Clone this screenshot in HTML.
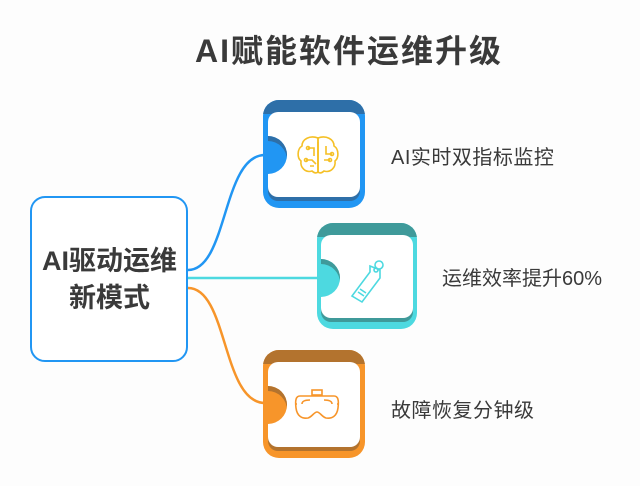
<!DOCTYPE html>
<html><head><meta charset="utf-8"><style>
body{margin:0;width:640px;height:486px;background:#fdfdfd;position:relative;overflow:hidden;font-family:"Liberation Sans","Noto Sans CJK SC",sans-serif;}
.t{position:absolute;white-space:nowrap;color:#3a3a3a;}
.card{position:absolute;border-radius:16px;overflow:hidden;}
.card .top{position:absolute;left:0;top:0;right:0;height:14px;}
.card .in{position:absolute;background:#fff;border-radius:10px;overflow:hidden;}
.card .semi{position:absolute;width:38px;height:38px;border-radius:50%;}
</style></head><body>
<div class="t" style="left:0;width:698px;text-align:center;top:26px;font-size:32px;font-weight:bold;letter-spacing:2px;">AI赋能软件运维升级</div>

<svg width="640" height="486" style="position:absolute;left:0;top:0">
<path d="M188,270 C228,270 222,155 265,155" fill="none" stroke="#2196f3" stroke-width="2.5"/>
<line x1="188" y1="278" x2="320" y2="278" stroke="#4dd9e0" stroke-width="2.5"/>
<path d="M188,288 C228,288 222,403 265,403" fill="none" stroke="#f7952a" stroke-width="2.5"/>
</svg>

<div style="position:absolute;left:30px;top:196px;width:154px;height:162px;border:2.5px solid #2196f3;border-radius:15px;background:#fff;"></div>
<div class="t" style="left:30px;width:159px;top:243px;text-align:center;font-size:27px;font-weight:bold;line-height:37px;">AI驱动运维<br>新模式</div>

<!-- blue card -->
<div class="card" style="left:263px;top:100px;width:102px;height:108px;background:#2196f3;">
<div class="top" style="background:#2e6fa8;"></div>
<div class="in" style="left:5px;top:12px;width:92px;height:85px;box-shadow:0 4px 0 #2e6fa8;">
<div class="semi" style="left:-19px;top:24px;background:#2196f3;box-shadow:inset 0 5px 0 #2e6fa8;"></div></div>
</div>
<svg style="position:absolute;left:296px;top:134px" width="44" height="42" viewBox="0 0 44 42" fill="none" stroke="#f5c026" stroke-width="1.6">
<path d="M22,4 C14,1 6,5 6,12 C1,15 1,24 5,27 C4,34 10,39 16,37 C19,40 22,39 22,37 Z"/>
<path d="M22,4 C30,1 38,5 38,12 C43,15 43,24 39,27 C40,34 34,39 28,37 C25,40 22,39 22,37 Z"/>
<path d="M22,8 V36 M12,14 H18 V22 M30,12 V20 H36 M10,26 H16 L20,30 M28,26 H34 M14,32 H18"/>
<circle cx="12" cy="14" r="1.5"/><circle cx="36" cy="20" r="1.5"/><circle cx="34" cy="26" r="1.5"/><circle cx="10" cy="26" r="1.5"/>
</svg>
<div class="t" style="left:391px;top:141px;font-size:20px;letter-spacing:0.5px;">AI实时双指标监控</div>

<!-- teal card -->
<div class="card" style="left:317px;top:223px;width:100px;height:106px;background:#4dd9e0;">
<div class="top" style="background:#3f9a9a;"></div>
<div class="in" style="left:4px;top:12px;width:92px;height:83px;box-shadow:0 4px 0 #3f9a9a;">
<div class="semi" style="left:-19px;top:24px;background:#4dd9e0;box-shadow:inset 0 5px 0 #3f9a9a;"></div></div>
</div>
<svg style="position:absolute;left:348px;top:256px" width="40" height="50" viewBox="0 0 40 50" fill="none" stroke="#4dd9e0" stroke-width="1.6">
<path d="M22,10 L32,14 L32,22 L14,46 L4,40 L22,16 Z"/>
<circle cx="28" cy="14" r="2"/><circle cx="31" cy="9" r="4"/>
<path d="M10,36 L16,40 M12,33 L18,37"/>
</svg>
<div class="t" style="left:442px;top:262px;font-size:20px;">运维效率提升60%</div>

<!-- orange card -->
<div class="card" style="left:263px;top:350px;width:102px;height:108px;background:#f7952a;">
<div class="top" style="background:#b3732e;"></div>
<div class="in" style="left:5px;top:12px;width:92px;height:85px;box-shadow:0 4px 0 #b3732e;">
<div class="semi" style="left:-19px;top:24px;background:#f7952a;box-shadow:inset 0 5px 0 #b3732e;"></div></div>
</div>
<svg style="position:absolute;left:294px;top:388px" width="46" height="34" viewBox="0 0 46 34" fill="none" stroke="#f7952a" stroke-width="1.6">
<rect x="18" y="2" width="10" height="5"/>
<path d="M6,8 H40 C44,8 45,12 44,20 C43,28 38,31 32,30 C28,29 26,24 23,24 C20,24 18,29 14,30 C8,31 3,28 2,20 C1,12 2,8 6,8 Z"/>
<path d="M8,16 C8,13 12,12 16,12 M30,12 C34,12 38,13 38,16"/>
<path d="M1,16 H3 M43,16 H45"/>
</svg>
<div class="t" style="left:391px;top:394px;font-size:20px;letter-spacing:0.5px;">故障恢复分钟级</div>
</body></html>
